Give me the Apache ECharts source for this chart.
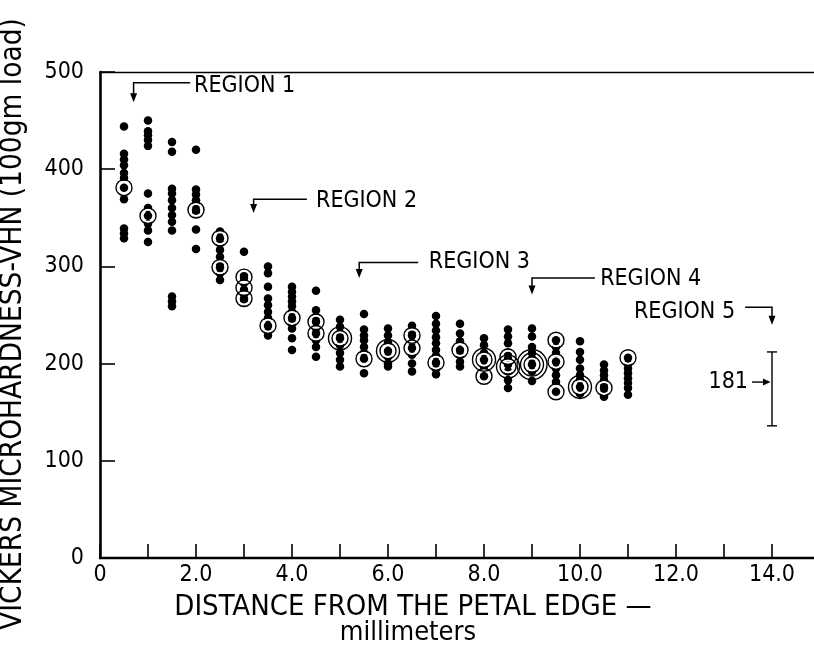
<!DOCTYPE html>
<html>
<head>
<meta charset="utf-8">
<script src="https://cdn.jsdelivr.net/npm/echarts@6/dist/echarts.min.js"></script>
<style>
  html, body { margin: 0; padding: 0; background: #fff; }
  #chart { width: 814px; height: 651px; }
</style>
</head>
<body>
<div id="chart"></div>
<script>
// Sampling positions along the petal (mm)
const distances = [0.5, 1.0, 1.5, 2.0, 2.5, 3.0, 3.5, 4.0, 4.5, 5.0, 5.5,
                   6.0, 6.5, 7.0, 7.5, 8.0, 8.5, 9.0, 9.5, 10.0, 10.5, 11.0];

// Individual VHN readings at each position
const hardness = [
  [444, 416, 410, 404, 396, 391, 381, 369, 339, 334, 329],
  [450, 439, 435, 430, 424, 375, 360, 352, 344, 337, 325],
  [428, 418, 380, 375, 368, 360, 353, 346, 337, 269, 264, 259],
  [420, 379, 374, 368, 363, 358, 355, 338, 318],
  [336, 329, 324, 317, 310, 303, 299, 293, 286],
  [315, 291, 288, 283, 276, 272, 267, 264],
  [300, 293, 279, 267, 260, 253, 247, 239, 233, 229],
  [279, 274, 269, 264, 259, 253, 247, 242, 236, 226, 214],
  [275, 255, 248, 243, 236, 231, 224, 217, 207],
  [245, 238, 231, 226, 219, 211, 204, 197],
  [251, 235, 229, 224, 217, 211, 205, 190],
  [236, 229, 222, 213, 207, 200, 197],
  [239, 233, 229, 222, 216, 209, 200, 192],
  [249, 241, 234, 227, 221, 214, 208, 201, 195, 189],
  [241, 231, 223, 214, 209, 202, 197],
  [226, 219, 211, 204, 197, 187],
  [235, 228, 221, 211, 205, 199, 192, 183, 175],
  [236, 228, 217, 211, 205, 199, 192, 182],
  [224, 217, 211, 202, 195, 188, 181, 171],
  [223, 212, 204, 195, 188, 183, 176, 169],
  [199, 193, 188, 183, 178, 175, 170, 166],
  [206, 200, 195, 190, 185, 180, 175, 168]
];

// Circled readings; the level gives the number of concentric rings
const ringX = [0.5, 1.0, 2.0, 2.5, 2.5, 3.0, 3.0, 3.0, 3.5, 4.0, 4.5, 4.5, 5.0, 5.5, 6.0,
               6.5, 6.5, 7.0, 7.5, 8.0, 8.0, 8.5, 8.5, 9.0, 9.5, 9.5, 9.5, 10.0, 10.5, 11.0];
const ringY = [381, 352, 358, 329, 299, 289, 278, 267, 239, 247, 243, 231, 226, 205, 213,
               229, 216, 201, 214, 204, 187, 207, 197, 199, 224, 202, 171, 176, 175, 206];
const ringLevel = [1, 1, 1, 1, 1, 1, 1, 1, 1, 1, 1, 1, 2, 1, 2,
                   1, 1, 1, 1, 2, 1, 1, 2, 3, 1, 1, 1, 2, 1, 1];

// Region call-outs
const regionLabels = ['REGION 1', 'REGION 2', 'REGION 3', 'REGION 4', 'REGION 5'];
const regionArrowX = [0.7, 3.2, 5.4, 9.0, 14.0];
const regionLineY = [489, 369, 304, 288, 258];
const regionTipY = [469, 355, 288, 271, 240];
const regionLineEndX = [1.88, 4.31, 6.63, 10.31, 13.44];
const regionTextX = [1.96, 4.5, 6.85, 10.42, 13.23];
const regionTextY = [486, 367, 305, 287, 253];
const regionAlign = ['left', 'left', 'left', 'left', 'right'];

// Region 5 range and mean
const region5X = 14.0;
const region5Low = 136;
const region5High = 212;
const region5Mean = 181;

// Axis ticks
const xTickStep = 1;
const yTicks = [0, 100, 200, 300, 400, 500];

const FONT = "'DejaVu Sans Condensed', 'Liberation Sans Narrow', 'DejaVu Sans', sans-serif";

const dotData = [];
distances.forEach((d, i) => hardness[i].forEach(v => dotData.push([d, v])));
const ringData = ringX.map((x, i) => [x, ringY[i], ringLevel[i]]);

function ringSeries(minLevel, size, halo) {
  return {
    type: 'scatter',
    symbol: 'circle',
    symbolSize: size,
    silent: true,
    z: halo ? 3 : 4,
    data: ringData.filter(r => r[2] >= minLevel),
    itemStyle: {
      color: 'transparent',
      borderColor: halo ? '#fff' : '#000',
      borderWidth: halo ? 2 : 1.4,
      opacity: 1
    }
  };
}

const chart = echarts.init(document.getElementById('chart'), null, { renderer: 'canvas' });

chart.setOption({
  animation: false,
  backgroundColor: '#fff',
  grid: { left: 100, top: 72, right: 0, bottom: 93, containLabel: false },
  xAxis: [{
    type: 'value',
    min: 0,
    max: 14.875,
    interval: xTickStep,
    axisLine: { show: true, lineStyle: { color: '#000', width: 2.4 } },
    axisTick: { show: true, inside: true, length: 14, lineStyle: { color: '#000', width: 1.6 } },
    axisLabel: {
      color: '#000', fontFamily: FONT, fontSize: 23, margin: 6,
      showMaxLabel: false,
      formatter: v => (Number.isInteger(v) && v % 2 === 0) ? (v === 0 ? '0' : v.toFixed(1)) : ''
    },
    splitLine: { show: false }
  }, {
    type: 'value',
    position: 'top',
    min: 0,
    max: 14.875,
    axisLine: { show: true, lineStyle: { color: '#000', width: 1.4 } },
    axisTick: { show: false },
    axisLabel: { show: false },
    splitLine: { show: false }
  }],
  yAxis: {
    type: 'value',
    min: yTicks[0],
    max: yTicks[yTicks.length - 1],
    interval: 100,
    axisLine: { show: true, lineStyle: { color: '#000', width: 2.6 } },
    axisTick: { show: true, inside: true, length: 15, lineStyle: { color: '#000', width: 1.6 } },
    axisLabel: { color: '#000', fontFamily: FONT, fontSize: 23, margin: 16 },
    splitLine: { show: false }
  },
  graphic: [
    {
      type: 'text', x: 13, y: 324, rotation: Math.PI / 2,
      style: {
        text: 'VICKERS MICROHARDNESS-VHN (100gm load)',
        font: '29.5px ' + FONT, fill: '#000', textAlign: 'center', textVerticalAlign: 'middle'
      }
    },
    {
      type: 'text', x: 413, y: 607,
      style: {
        text: 'DISTANCE FROM THE PETAL EDGE —',
        font: '29px ' + FONT, fill: '#000', textAlign: 'center', textVerticalAlign: 'middle'
      }
    },
    {
      type: 'text', x: 408, y: 633,
      style: {
        text: 'millimeters',
        font: '27px ' + FONT, fill: '#000', textAlign: 'center', textVerticalAlign: 'middle'
      }
    }
  ],
  series: [
    {
      type: 'scatter',
      symbol: 'circle',
      symbolSize: 8.5,
      silent: true,
      z: 2,
      itemStyle: { color: '#000', opacity: 1 },
      data: dotData
    },
    ringSeries(1, 12, true),
    ringSeries(1, 16, false),
    ringSeries(2, 23, false),
    ringSeries(3, 30, false),
    {
      // region call-outs: bent arrow + label
      type: 'custom',
      silent: true,
      clip: false,
      z: 5,
      data: regionLabels.map((_, i) => [regionArrowX[i], regionLineY[i]]),
      renderItem: (params, api) => {
        const i = params.dataIndex;
        const top = api.coord([regionArrowX[i], regionLineY[i]]);
        const tip = api.coord([regionArrowX[i], regionTipY[i]]);
        const end = api.coord([regionLineEndX[i], regionLineY[i]]);
        const txt = api.coord([regionTextX[i], regionTextY[i]]);
        return {
          type: 'group',
          children: [
            { type: 'polyline', shape: { points: [[end[0], end[1]], [top[0], top[1]], [tip[0], tip[1] - 6]] },
              style: { stroke: '#000', lineWidth: 1.5, fill: null } },
            { type: 'polygon', shape: { points: [[tip[0], tip[1]], [tip[0] - 3.5, tip[1] - 9], [tip[0] + 3.5, tip[1] - 9]] },
              style: { fill: '#000' } },
            { type: 'text', x: txt[0], y: txt[1],
              style: { text: regionLabels[i], font: '23px ' + FONT, fill: '#000',
                       textAlign: regionAlign[i], textVerticalAlign: 'middle' } }
          ]
        };
      }
    },
    {
      // Region 5 range bar with its mean
      type: 'custom',
      silent: true,
      clip: false,
      z: 5,
      data: [[region5X, region5Mean]],
      renderItem: (params, api) => {
        const lo = api.coord([region5X, region5Low]);
        const hi = api.coord([region5X, region5High]);
        const mu = api.coord([region5X, region5Mean]);
        const x = lo[0];
        return {
          type: 'group',
          children: [
            { type: 'line', shape: { x1: x, y1: lo[1], x2: x, y2: hi[1] }, style: { stroke: '#000', lineWidth: 1.4 } },
            { type: 'line', shape: { x1: x - 5, y1: lo[1], x2: x + 5, y2: lo[1] }, style: { stroke: '#000', lineWidth: 1.4 } },
            { type: 'line', shape: { x1: x - 5, y1: hi[1], x2: x + 5, y2: hi[1] }, style: { stroke: '#000', lineWidth: 1.4 } },
            { type: 'line', shape: { x1: x - 20, y1: mu[1], x2: x - 7, y2: mu[1] }, style: { stroke: '#000', lineWidth: 1.4 } },
            { type: 'polygon', shape: { points: [[x - 1.5, mu[1]], [x - 9, mu[1] - 3.5], [x - 9, mu[1] + 3.5]] }, style: { fill: '#000' } },
            { type: 'text', x: x - 24, y: mu[1],
              style: { text: String(region5Mean), font: '23px ' + FONT, fill: '#000',
                       textAlign: 'right', textVerticalAlign: 'middle' } }
          ]
        };
      }
    }
  ]
});
</script>
</body>
</html>
